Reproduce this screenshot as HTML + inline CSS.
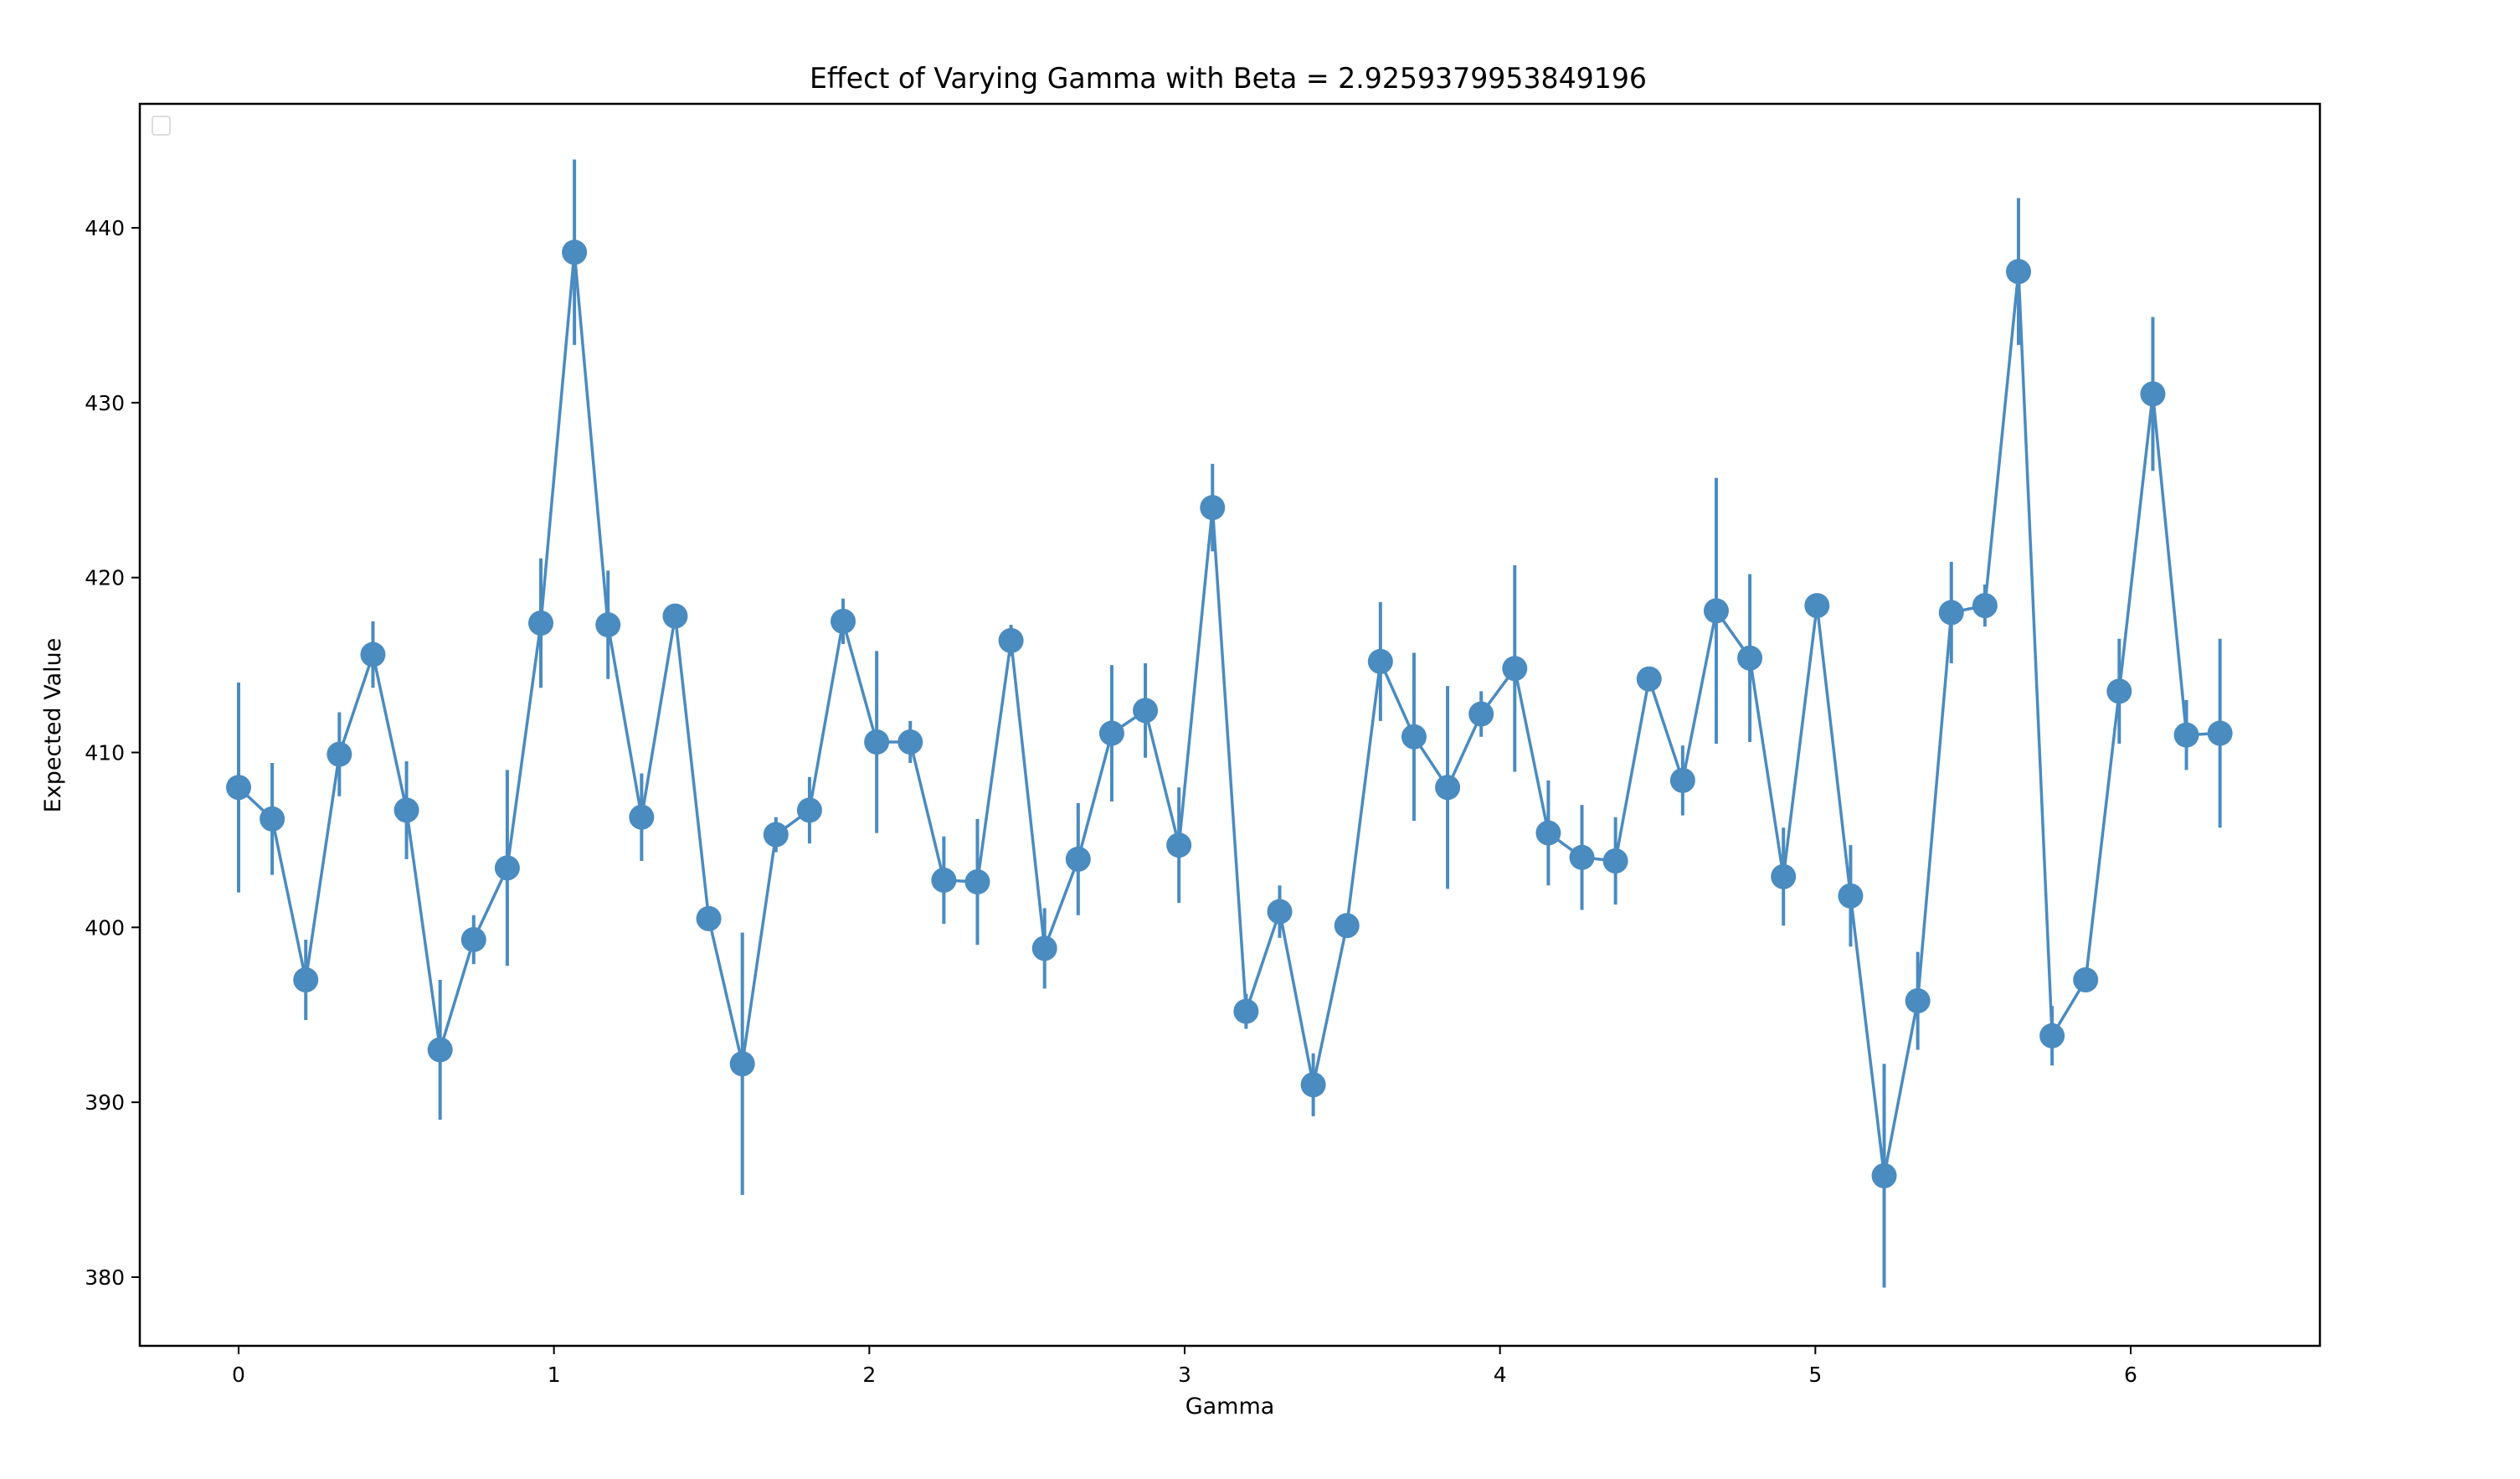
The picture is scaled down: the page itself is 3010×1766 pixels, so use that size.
<!DOCTYPE html>
<html>
<head>
<meta charset="utf-8">
<style>
  html, body { margin: 0; padding: 0; background: #ffffff; }
  svg { display: block; }
  text { font-family: "DejaVu Sans", "Liberation Sans", sans-serif; fill: #000; }
</style>
</head>
<body>
<svg id="chart" width="3010" height="1766" viewBox="0 0 3010 1766" xmlns="http://www.w3.org/2000/svg">
  <rect x="0" y="0" width="3010" height="1766" fill="#ffffff"/>
  <text x="1467" y="105" font-size="34" text-anchor="middle" textLength="1000" lengthAdjust="spacingAndGlyphs">Effect of Varying Gamma with Beta = 2.9259379953849196</text>
  <g id="plot"></g>
  <rect x="182" y="139" width="21" height="22" rx="3" fill="#ffffff" stroke="#dddddd" stroke-width="2"/>
  <text x="1469" y="1688" font-size="27" text-anchor="middle">Gamma</text>
  <text x="0" y="0" font-size="27" text-anchor="middle" transform="translate(72,866) rotate(-90)">Expected Value</text>
</svg>
<script>
const meanValues = [408,406.2,397,409.9,415.6,406.7,393,399.3,403.4,417.4,438.6,417.3,406.3,417.8,400.5,392.2,405.3,406.7,417.5,410.6,410.6,402.7,402.6,416.4,398.8,403.9,411.1,412.4,404.7,424,395.2,400.9,391,400.1,415.2,410.9,408,412.2,414.8,405.4,404,403.8,414.2,408.4,418.1,415.4,402.9,418.4,401.8,385.8,395.8,418,418.4,437.5,393.8,397,413.5,430.5,411,411.1];
const errorValues = [6,3.2,2.3,2.4,1.9,2.8,4,1.4,5.6,3.7,5.3,3.1,2.5,0.5,0.3,7.5,1,1.9,1.3,5.2,1.2,2.5,3.6,0.9,2.3,3.2,3.9,2.7,3.3,2.5,1,1.5,1.8,0.3,3.4,4.8,5.8,1.3,5.9,3,3,2.5,0.4,2,7.6,4.8,2.8,0.4,2.9,6.4,2.8,2.9,1.2,4.2,1.7,0.3,3,4.4,2,5.4];
const gammaStart = 0;
const gammaEnd = 6.283185307;
const xTicks = [0,1,2,3,4,5,6];
const yTicks = [380,390,400,410,420,430,440];

const NS = "http://www.w3.org/2000/svg";
const L = 167, R = 2771, T = 124, B = 1607;
function xs(v){ return 285 + (v - 0) * (2545 - 285) / 6; }
function ys(v){ return 1525 - (v - 380) * (1525 - 272) / 60; }
const plot = document.getElementById('plot');
function mk(tag, attrs, parent){
  const e = document.createElementNS(NS, tag);
  for (const k in attrs) e.setAttribute(k, attrs[k]);
  (parent || plot).appendChild(e);
  return e;
}
const n = meanValues.length;
const gammas = meanValues.map((_, i) => gammaStart + i * (gammaEnd - gammaStart) / (n - 1));
const color = "#4a8bc0";

// series line
const pts = gammas.map((g, i) => xs(g).toFixed(1) + "," + ys(meanValues[i]).toFixed(1)).join(" ");
const line = mk('polyline', {points: pts, fill: 'none', stroke: color, 'stroke-width': 3.5, 'stroke-linejoin': 'round'});



// error bars
gammas.forEach((g, i) => {
  const eb = mk('line', {x1: xs(g), x2: xs(g), y1: ys(meanValues[i] - errorValues[i]), y2: ys(meanValues[i] + errorValues[i]), stroke: color, 'stroke-width': 4});
  
  
});
// markers
gammas.forEach((g, i) => {
  const c = mk('circle', {cx: xs(g), cy: ys(meanValues[i]), r: 15, fill: color});
  
  
});

// axes frame
const frame = mk('rect', {x: L, y: T, width: R - L, height: B - T, fill: 'none', stroke: '#000', 'stroke-width': 2.5});



// x ticks
xTicks.forEach(t => {
  const tk = mk('line', {x1: xs(t), x2: xs(t), y1: B, y2: B + 10, stroke: '#000', 'stroke-width': 2});
  
  
  const lb = mk('text', {x: xs(t), y: B + 43, 'font-size': 25, 'text-anchor': 'middle'});
  lb.textContent = String(t);
  
  
});
// y ticks
yTicks.forEach(t => {
  const tk = mk('line', {x1: L - 10, x2: L, y1: ys(t), y2: ys(t), stroke: '#000', 'stroke-width': 2});
  
  
  const lb = mk('text', {x: L - 18, y: ys(t) + 9, 'font-size': 25, 'text-anchor': 'end'});
  lb.textContent = String(t);
  
  
});
</script>
</body>
</html>
